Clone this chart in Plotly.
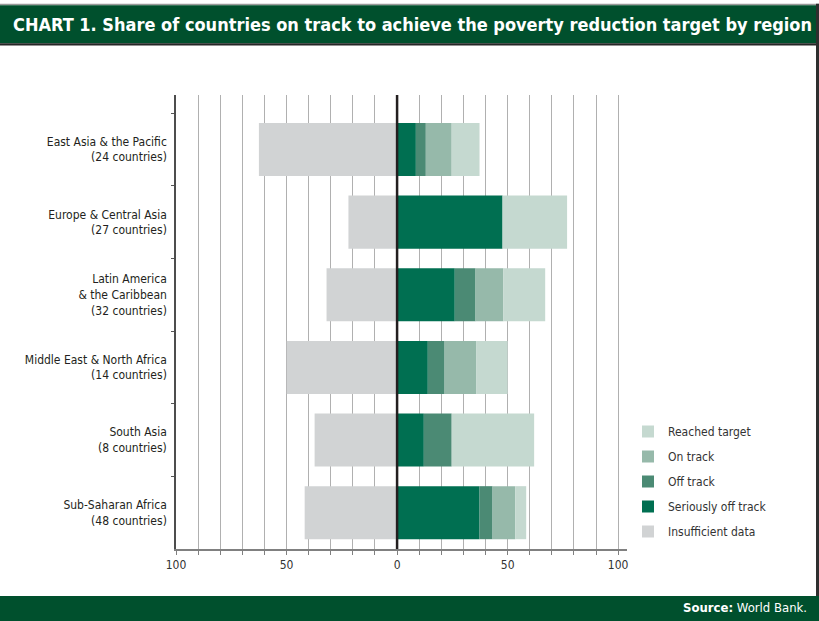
import plotly.graph_objects as go

# Regions (with number of countries) and share of countries (%) in each status
regions = [
    "East Asia & the Pacific<br>(24 countries)",
    "Europe & Central Asia<br>(27 countries)",
    "Latin America<br>& the Caribbean<br>(32 countries)",
    "Middle East & North Africa<br>(14 countries)",
    "South Asia<br>(8 countries)",
    "Sub-Saharan Africa<br>(48 countries)",
]
seriously_off_track = [8.5, 47.7, 26.1, 13.9, 12.1, 37.3]
off_track = [4.5, 0.0, 9.4, 7.6, 12.6, 5.9]
on_track = [11.7, 0.0, 12.6, 14.4, 0.0, 10.3]
reached_target = [12.6, 29.2, 18.9, 14.1, 37.3, 4.9]
insufficient_data = [62.5, 22.0, 31.9, 49.9, 37.3, 41.8]

x_ticks = list(range(-100, 101, 10))
x_tick_labels = ["100" if v == -100 else "50" if v == -50 else "0" if v == 0
                 else "50" if v == 50 else "100" if v == 100 else "" for v in x_ticks]

FONT = "Liberation Sans Narrow, Arial Narrow, DejaVu Sans Condensed, sans-serif"
GREEN_DARK = "#00502d"

W, H = 819, 621
ML, MR, MT, MB = 176, 192, 95, 72
PW, PH = W - ML - MR, H - MT - MB


def px_x(p):
    return (p - ML) / PW


def px_y(p):
    return (H - MB - p) / PH


fig = go.Figure()

series = [
    ("Seriously off track", seriously_off_track, "#006f51", 4, 1),
    ("Off track", off_track, "#4b8a74", 3, 1),
    ("On track", on_track, "#96b9aa", 2, 1),
    ("Reached target", reached_target, "#c5d9d0", 1, 1),
    ("Insufficient data", insufficient_data, "#d1d3d4", 5, -1),
]
for name, vals, color, rank, sign in series:
    fig.add_trace(go.Bar(
        y=regions, x=[sign * v for v in vals], orientation="h",
        name=name, marker=dict(color=color, line=dict(width=0)),
        legendrank=rank, legendgroup=name,
    ))

fig.update_layout(
    width=W, height=H,
    margin=dict(l=ML, r=MR, t=MT, b=MB, pad=0),
    paper_bgcolor="white", plot_bgcolor="white",
    barmode="relative", bargap=0.27,
    font=dict(family=FONT, size=12, color="#231f20"),
    showlegend=True,
    legend=dict(
        x=px_x(628), xanchor="left", y=px_y(417), yanchor="top",
        font=dict(family=FONT, size=12, color="#333333"),
        bgcolor="rgba(0,0,0,0)", tracegroupgap=6,
    ),
    xaxis=dict(
        range=[-100, 104], tickvals=x_ticks, ticktext=x_tick_labels,
        showgrid=True, gridcolor="#b0b0b0", gridwidth=1,
        zeroline=False,
        showline=True, linecolor="#808080", linewidth=2,
        ticks="outside", ticklen=4, tickcolor="#808080", tickwidth=1,
        tickfont=dict(family=FONT, size=12, color="#333333"),
        fixedrange=True,
    ),
    yaxis=dict(
        type="category", categoryorder="array", categoryarray=regions,
        range=[5.5, -0.75], tickson="boundaries",
        showgrid=False, zeroline=False,
        showline=True, linecolor="#4d4d4d", linewidth=1.5,
        ticks="outside", ticklen=3, tickcolor="#555555", tickwidth=1,
        tickfont=dict(family=FONT, size=12, color="#231f20"),
        ticklabelstandoff=5,
        fixedrange=True,
    ),
)

shapes = [
    # zero line drawn over the bars
    dict(type="line", xref="x", yref="paper", x0=0, x1=0, y0=0, y1=1,
         line=dict(color="#231f20", width=2.5), layer="above"),
    # header band
    dict(type="rect", xref="paper", yref="paper", x0=px_x(0), x1=px_x(819),
         y0=px_y(5.3), y1=px_y(3.8), fillcolor="#9a9a9a", line=dict(width=0)),
    dict(type="rect", xref="paper", yref="paper", x0=px_x(0), x1=px_x(816),
         y0=px_y(43.3), y1=px_y(5.3), fillcolor=GREEN_DARK, line=dict(width=0)),
    dict(type="rect", xref="paper", yref="paper", x0=px_x(0), x1=px_x(819),
         y0=px_y(45.6), y1=px_y(43.3), fillcolor="#262626", line=dict(width=0)),
    # right frame
    dict(type="rect", xref="paper", yref="paper", x0=px_x(816), x1=px_x(819),
         y0=px_y(596), y1=px_y(3.8), fillcolor="#2f2f2f", line=dict(width=0)),
    # footer band
    dict(type="rect", xref="paper", yref="paper", x0=px_x(0), x1=px_x(819),
         y0=px_y(621), y1=px_y(596), fillcolor=GREEN_DARK, line=dict(width=0)),
]
fig.update_layout(shapes=shapes)

fig.add_annotation(
    xref="paper", yref="paper", x=px_x(11), y=px_y(25), xanchor="left", yanchor="middle",
    text="<b>CHART 1. Share of countries on track to achieve the poverty reduction target by region</b>",
    showarrow=False, font=dict(family=FONT, size=18, color="white"),
)
fig.add_annotation(
    xref="paper", yref="paper", x=px_x(809), y=px_y(607.5), xanchor="right", yanchor="middle",
    text="<b>Source:</b> World Bank.",
    showarrow=False, font=dict(family=FONT, size=13, color="white"),
)

fig.write_html("out.html")
